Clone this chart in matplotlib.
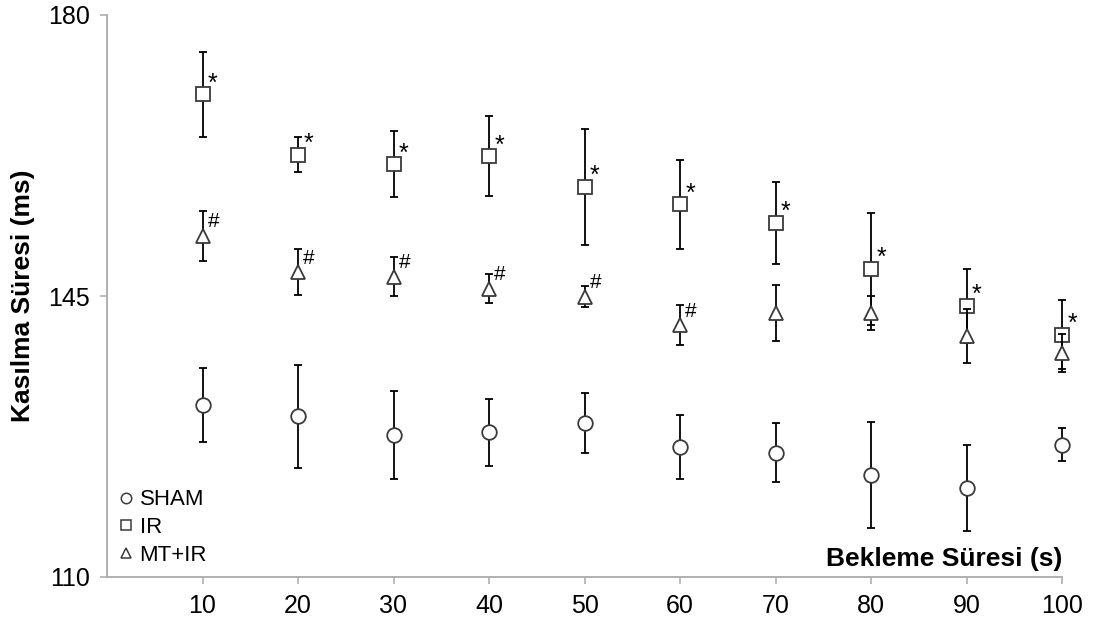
import numpy as np
import matplotlib
matplotlib.use("Agg")
import matplotlib.pyplot as plt
from matplotlib.lines import Line2D

plt.rcParams["font.family"] = ["Liberation Sans", "DejaVu Sans"]

# Bekleme süresi (s)
wait_s = [10, 20, 30, 40, 50, 60, 70, 80, 90, 100]

sham_mean = [131.4, 130.0, 127.7, 128.0, 129.2, 126.2, 125.5, 122.7, 121.1, 126.5]
sham_sd = [4.6, 6.4, 5.5, 4.2, 3.7, 4.0, 3.7, 6.6, 5.4, 2.0]

ir_mean = [170.1, 162.6, 161.4, 162.4, 158.6, 156.4, 154.1, 148.4, 143.8, 140.2]
ir_sd = [5.3, 2.2, 4.1, 5.0, 7.2, 5.6, 5.1, 7.0, 4.6, 4.3]

mtir_mean = [152.5, 148.0, 147.4, 145.9, 144.9, 141.4, 142.9, 142.9, 140.0, 137.9]
mtir_sd = [3.1, 2.9, 2.4, 1.8, 1.3, 2.45, 3.45, 2.1, 3.4, 2.4]

# significance marks: * IR vs SHAM, # MT+IR vs IR
ir_sig = [True] * 10
mtir_sig = [True, True, True, True, True, True, False, False, False, False]

series = [
    ("SHAM", sham_mean, sham_sd, "o"),
    ("IR", ir_mean, ir_sd, "s"),
    ("MT+IR", mtir_mean, mtir_sd, "^"),
]

fig = plt.figure(figsize=(10.96, 6.30), dpi=100)
ax = fig.add_axes([107 / 1096, 1 - 577 / 630, (1062 - 107) / 1096, (577 - 15) / 630])

edge = "#3a3a3a"
for i, (name, m, sd, mk) in enumerate(series):
    cont = ax.errorbar(wait_s, m, yerr=sd, fmt=mk, ms=10.5, mfc="white", mec=edge, mew=1.3,
                       ecolor="black", elinewidth=1.3, capsize=3, capthick=1.3,
                       zorder=3 + i, label=name)
    for art in cont.get_children():
        art.set_clip_on(False)

for x, y, s in zip(wait_s, ir_mean, ir_sig):
    if s:
        ax.annotate("*", (x, y), xytext=(7.5, 2.8), textcoords="offset points",
                    ha="center", va="baseline", fontsize=18, zorder=10)
for x, y, s in zip(wait_s, mtir_mean, mtir_sig):
    if s:
        ax.annotate("#", (x, y), xytext=(8, 6.0), textcoords="offset points",
                    ha="center", va="baseline", fontsize=15, zorder=10)

ax.set_xlim(0, 100)
ax.set_ylim(110, 180)
ax.set_xticks(wait_s)
ax.set_yticks([110, 145, 180])
for side in ("top", "right"):
    ax.spines[side].set_visible(False)
for side in ("left", "bottom"):
    ax.spines[side].set_color("#b0b0b0")
    ax.spines[side].set_linewidth(1.4)
ax.tick_params(axis="both", direction="out", length=5, width=1.2, color="#b0b0b0",
               labelsize=18, pad=7, labelcolor="black")

ax.set_ylabel("Kasılma Süresi (ms)", fontsize=19, fontweight="bold", labelpad=10)
ax.text(1.0, 0.02, "Bekleme Süresi (s)", transform=ax.transAxes, ha="right",
        va="baseline", fontsize=19, fontweight="bold")

handles = [Line2D([], [], ls="none", marker=mk, ms=7.5, mfc="white", mec=edge, mew=1.1)
           for _, _, _, mk in series]
ax.legend(handles, [s[0] for s in series], loc="lower left", bbox_to_anchor=(0.012, 0.02),
          frameon=False, fontsize=16, handlelength=0.7, handletextpad=0.25,
          labelspacing=0.3, borderpad=0, borderaxespad=0)

fig.savefig("out.png", dpi=100)
